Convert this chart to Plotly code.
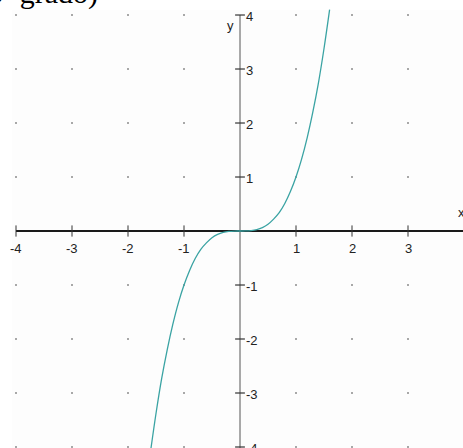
import plotly.graph_objects as go

# Sample points of the curve y = x^3
curve_x = [-1.6, -1.5, -1.4, -1.3, -1.2, -1.1, -1.0, -0.9, -0.8, -0.7, -0.6, -0.5,
           -0.4, -0.3, -0.2, -0.1, 0.0, 0.1, 0.2, 0.3, 0.4, 0.5, 0.6, 0.7, 0.8,
           0.9, 1.0, 1.1, 1.2, 1.3, 1.4, 1.5, 1.6]
curve_y = [-4.10, -3.38, -2.74, -2.20, -1.73, -1.33, -1.00, -0.73, -0.51, -0.34,
           -0.22, -0.125, -0.064, -0.027, -0.008, -0.001, 0.0, 0.001, 0.008, 0.027,
           0.064, 0.125, 0.22, 0.34, 0.51, 0.73, 1.00, 1.33, 1.73, 2.20, 2.74,
           3.38, 4.10]

x_ticks = [-4, -3, -2, -1, 1, 2, 3, 4]
y_ticks = [4, 3, 2, 1, -1, -2, -3, -4]
x_labels = ["-4", "-3", "-2", "-1", "1", "2", "3", "4"]
y_labels = ["4", "3", "2", "1", "-1", "-2", "-3", "-4"]
grid_vals = [-4, -3, -2, -1, 1, 2, 3, 4]

TICK_FONT = dict(family="Liberation Sans, Arial, sans-serif",
                 size=13, color="#222222")

fig = go.Figure()

# dotted grid at integer points
gx, gy = [], []
for a in grid_vals:
    for b in grid_vals:
        gx.append(a)
        gy.append(b)
fig.add_trace(go.Scatter(x=gx, y=gy, mode="markers",
                         marker=dict(size=2, color="#a8a8a8", symbol="square"),
                         hoverinfo="skip"))

# tick marks across each axis
fig.add_trace(go.Scatter(x=x_ticks, y=[0] * len(x_ticks), mode="markers",
                         marker=dict(symbol="line-ns", size=8,
                                     line=dict(width=1, color="#333333")),
                         hoverinfo="skip"))
fig.add_trace(go.Scatter(x=[0] * len(y_ticks), y=y_ticks, mode="markers",
                         marker=dict(symbol="line-ew", size=7,
                                     line=dict(width=1.2, color="#333333")),
                         hoverinfo="skip"))

# the cubic curve
fig.add_trace(go.Scatter(x=curve_x, y=curve_y, mode="lines",
                         line=dict(color="#3aa3a3", width=1.3, shape="spline"),
                         hoverinfo="skip"))

shapes = [
    # faint panel background
    dict(type="rect", xref="paper", yref="paper", x0=0.026, x1=1, y0=0, y1=0.978,
         fillcolor="#fdfdfd", line=dict(width=0), layer="below"),
    # x axis
    dict(type="line", xref="x", yref="y", x0=-4, x1=4.3, y0=0, y1=0,
         line=dict(color="#1a1a1a", width=2), layer="below"),
    # y axis
    dict(type="line", xref="x", yref="y", x0=0, x1=0, y0=4, y1=-4.3,
         line=dict(color="#555555", width=1), layer="below"),
]

annotations = []
for v, t in zip(x_ticks, x_labels):
    annotations.append(dict(x=v, y=0, xref="x", yref="y", text=t, showarrow=False,
                            font=TICK_FONT, xanchor="center", yanchor="middle",
                            yshift=-17))
for v, t in zip(y_ticks, y_labels):
    annotations.append(dict(x=0, y=v, xref="x", yref="y", text=t, showarrow=False,
                            font=TICK_FONT, xanchor="left", yanchor="middle",
                            xshift=4, yshift=-1))
annotations.append(dict(x=0, y=3.8, xref="x", yref="y", text="y", showarrow=False,
                        font=TICK_FONT, xanchor="right", yanchor="middle", xshift=-4))
annotations.append(dict(x=3.982, y=0.35, xref="x", yref="y", text="x", showarrow=False,
                        font=TICK_FONT, xanchor="right", yanchor="middle", xshift=4))
# title text at the top edge, its baseline just below the top of the page
annotations.append(dict(x=100 / 463, y=1 - 12 / 448, xref="paper", yref="paper",
                        text="3º grado)", showarrow=False, xanchor="right",
                        yanchor="bottom",
                        font=dict(family="Liberation Serif, Times New Roman, serif",
                                  size=30, color="#000000")))

fig.update_layout(
    width=463, height=448,
    margin=dict(l=0, r=0, t=0, b=0),
    paper_bgcolor="white", plot_bgcolor="rgba(0,0,0,0)",
    showlegend=False,
    xaxis=dict(range=[-4.2857, 3.982], visible=False, fixedrange=True),
    yaxis=dict(range=[-4.0185, 4.278], visible=False, fixedrange=True),
    shapes=shapes,
    annotations=annotations,
)

fig.write_html("out.html")
